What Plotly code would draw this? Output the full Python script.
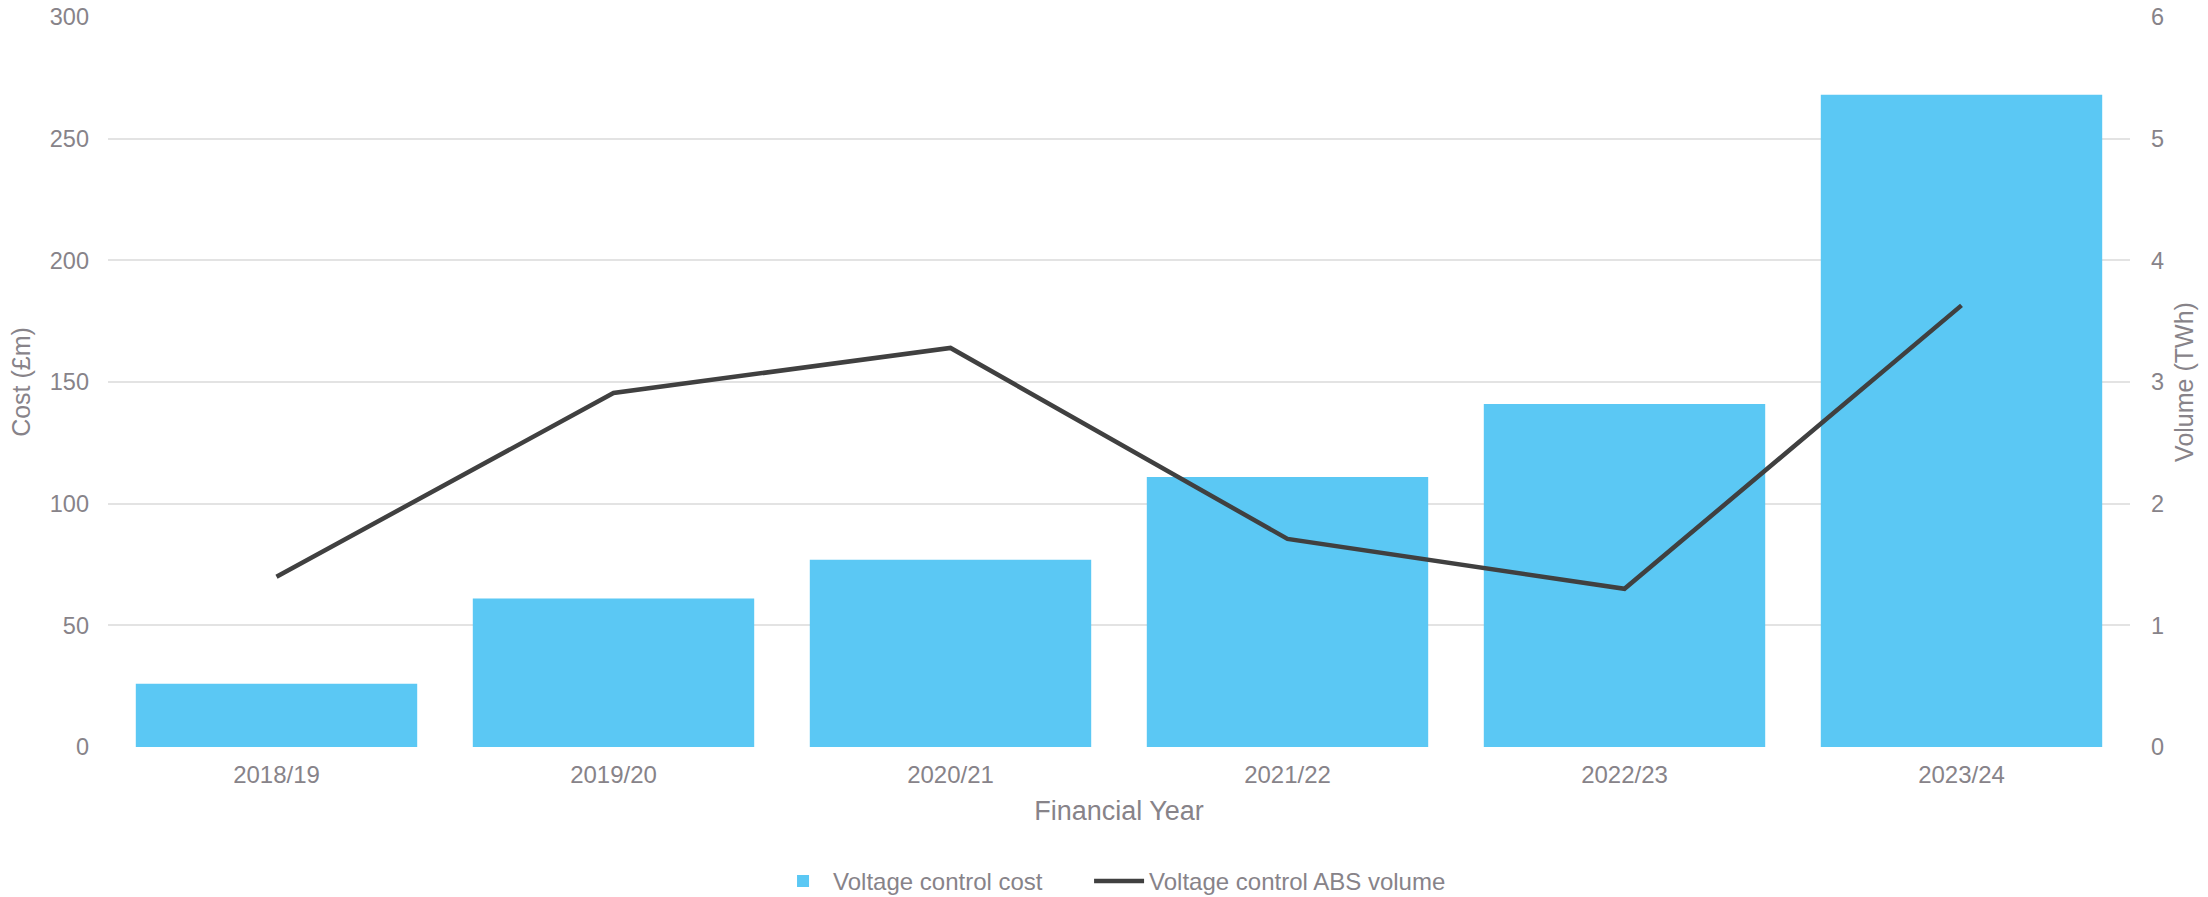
import plotly.graph_objects as go

# Voltage control: annual cost (bars, left axis) and ABS volume (line, right axis)
years = ["2018/19", "2019/20", "2020/21", "2021/22", "2022/23", "2023/24"]
cost_gbp_m = [26, 61, 77, 111, 141, 268]
volume_twh = [1.40, 2.91, 3.28, 1.71, 1.30, 3.63]

cost_ticks = [0, 50, 100, 150, 200, 250, 300]
volume_ticks = [0, 1, 2, 3, 4, 5, 6]

FONT = "Liberation Sans, Arial, sans-serif"
TEXT = "#878389"
GRID = "#e3e3e3"
BAR = "#5bc8f4"
LINE = "#404040"

fig = go.Figure()

fig.add_trace(go.Bar(
    x=years, y=cost_gbp_m, name="Voltage control cost",
    marker=dict(color=BAR, line=dict(width=0)),
    yaxis="y", legend="legend",
))
fig.add_trace(go.Scatter(
    x=years, y=volume_twh, name="Voltage control ABS volume",
    mode="lines", line=dict(color=LINE, width=4.5),
    yaxis="y2", legend="legend2",
))

# one legend box per series, laid out side by side below the axis title
legend_style = dict(
    orientation="h", xanchor="left", xref="paper",
    y=-0.184, yanchor="middle",
    font=dict(size=24, color=TEXT),
    itemwidth=50, bgcolor="rgba(0,0,0,0)",
)

fig.update_layout(
    width=2208, height=897,
    margin=dict(l=108, r=78, t=17, b=150, autoexpand=False),
    paper_bgcolor="white", plot_bgcolor="white",
    font=dict(family=FONT, size=24, color=TEXT),
    bargap=0.165,
    showlegend=True,
    legend=dict(x=0.3289, **legend_style),
    legend2=dict(x=0.4852, **legend_style),
    xaxis=dict(
        type="category",
        title=dict(text="Financial Year", font=dict(size=27, color=TEXT), standoff=14),
        showgrid=False, showline=False, zeroline=False,
        ticks="", tickfont=dict(size=24, color=TEXT),
        ticklabelstandoff=11,
        automargin=False,
    ),
    yaxis=dict(
        range=[0, 300], tickvals=cost_ticks,
        title=dict(text="Cost (£m)", font=dict(size=25, color=TEXT), standoff=12),
        showgrid=True, gridcolor=GRID, gridwidth=2,
        zeroline=False, showline=False, ticks="",
        tickfont=dict(size=23.5, color=TEXT),
        ticklabelstandoff=18,
        automargin=False,
    ),
    yaxis2=dict(
        range=[0, 6], tickvals=volume_ticks,
        overlaying="y", side="right",
        title=dict(text="Volume (TWh)", font=dict(size=25, color=TEXT), standoff=12),
        showgrid=False, zeroline=False, showline=False, ticks="",
        tickfont=dict(size=23.5, color=TEXT),
        ticklabelstandoff=20,
        automargin=False,
    ),
)

fig.write_html("out.html")
